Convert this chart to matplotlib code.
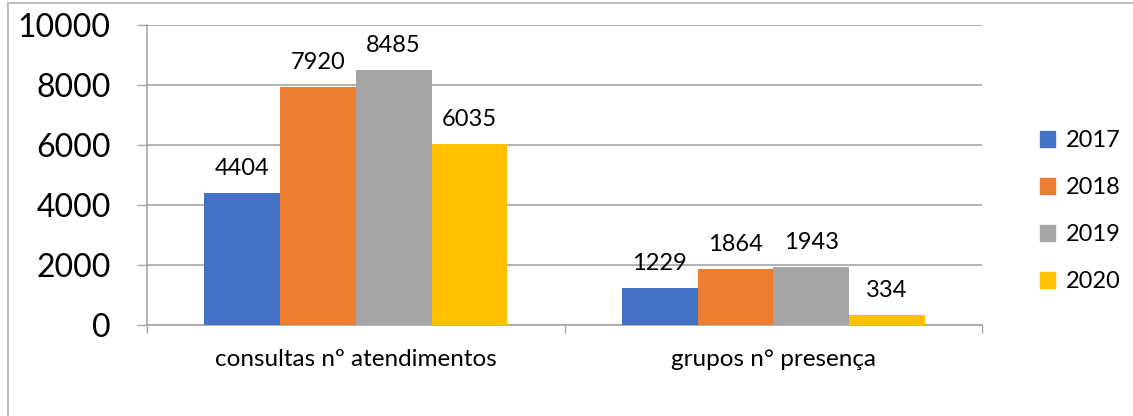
import matplotlib
matplotlib.use("Agg")
import matplotlib.pyplot as plt
from matplotlib.lines import Line2D
import numpy as np

categories = ["consultas nº atendimentos", "grupos n° presença"]
years = ["2017", "2018", "2019", "2020"]
values_2017 = [4404, 1229]
values_2018 = [7920, 1864]
values_2019 = [8485, 1943]
values_2020 = [6035, 334]
colors = ["#4472C4", "#ED7D31", "#A5A5A5", "#FFC000"]
yticks = [0, 2000, 4000, 6000, 8000, 10000]

plt.rcParams['font.family'] = ['Lato', 'DejaVu Sans']

W, H = 1133, 416
fig = plt.figure(figsize=(W / 100, H / 100), dpi=100)
ax = fig.add_axes([147 / W, (H - 325) / H, (982 - 147) / W, 300 / H])

series = [values_2017, values_2018, values_2019, values_2020]
x = np.arange(len(categories))
w = 75.75 / 417.5
for i, (vals, yr, c) in enumerate(zip(series, years, colors)):
    pos = x + (i - 1.5) * w
    bars = ax.bar(pos, vals, width=w, color=c, label=yr, zorder=3)
    for b, v in zip(bars, vals):
        ax.annotate(str(v), (b.get_x() + b.get_width() / 2, v),
                    xytext=(0, 13), textcoords="offset points",
                    ha="center", va="baseline", fontsize=17, color="#000000")

ax.set_xlim(-0.5, 1.5)
ax.set_ylim(0, 10000)
ax.set_yticks(yticks)
ax.set_yticklabels([str(t) for t in yticks], fontsize=23)
ax.tick_params(axis="y", length=7.2, width=1, color="#A6A6A6", pad=19)
ax.grid(axis="y", color="#A6A6A6", linewidth=1.2, zorder=0)
ax.set_axisbelow(True)

ax.set_xticks(x)
ax.set_xticklabels(categories, fontsize=17.5)
ax.tick_params(axis="x", which="major", length=0, pad=17)
ax.set_xticks([-0.5, 0.5, 1.5], minor=True)
ax.tick_params(axis="x", which="minor", length=5.8, width=1, color="#A6A6A6")

for s in ["top", "right"]:
    ax.spines[s].set_visible(False)
for s in ["left", "bottom"]:
    ax.spines[s].set_color("#A6A6A6")
    ax.spines[s].set_linewidth(1.2)

handles = [plt.Rectangle((0, 0), 1, 1, color=c) for c in colors]
leg = fig.legend(handles, years, loc="center left",
                 bbox_to_anchor=(1040 / W, (H - 211) / H),
                 frameon=False, fontsize=17, handlelength=0.65, handleheight=0.65,
                 handletextpad=0.45, labelspacing=1.1,
                 borderpad=0, borderaxespad=0)

fig.add_artist(Line2D([8 / W, 1], [(H - 3) / H, (H - 3) / H], color="#BFBFBF", linewidth=1.5))
fig.add_artist(Line2D([8 / W, 8 / W], [0, (H - 3) / H], color="#BFBFBF", linewidth=1.5))

fig.savefig("out.png", dpi=100)
